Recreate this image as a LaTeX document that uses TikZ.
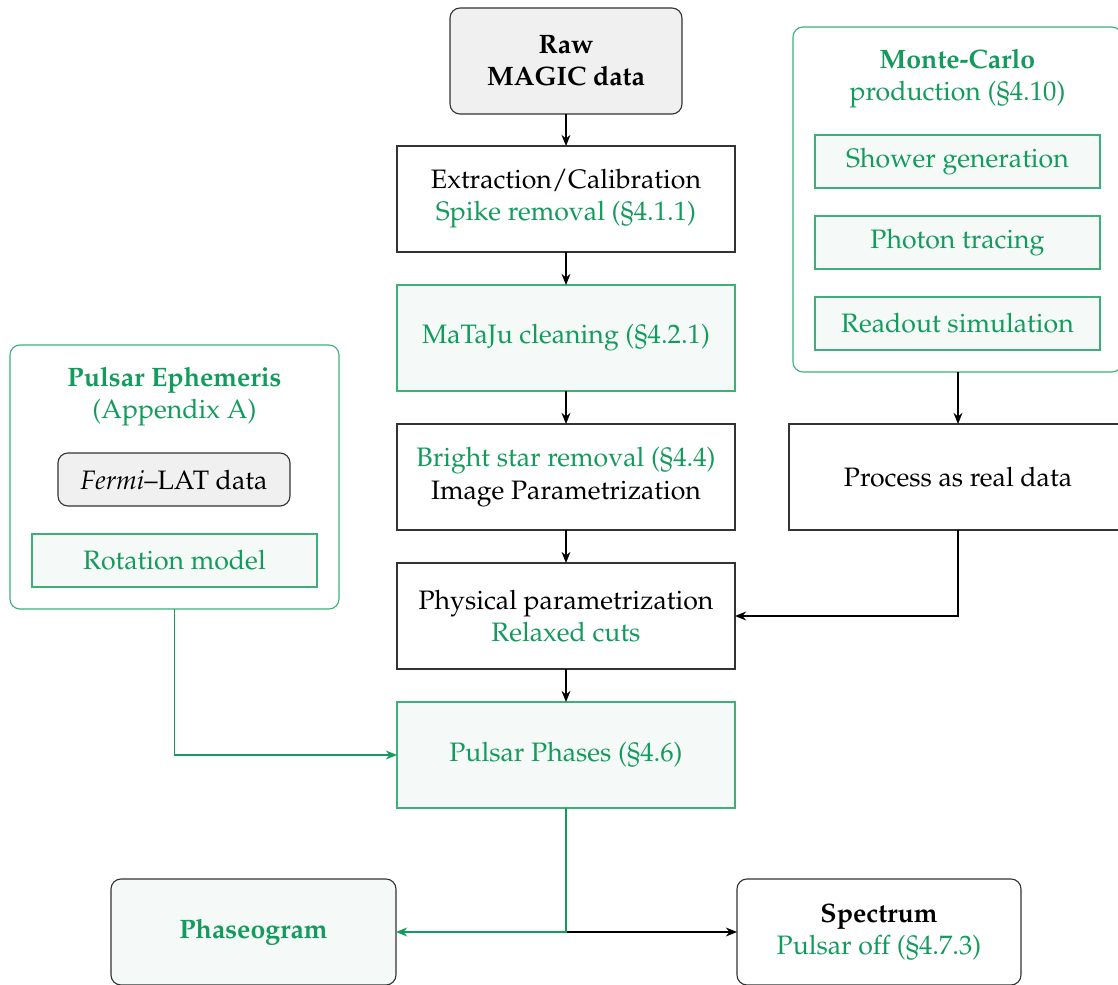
\documentclass[tikz,border=0pt]{standalone}
\usepackage[T1]{fontenc}
\usepackage{mathpazo}
\usetikzlibrary{arrows.meta}
\definecolor{grn}{HTML}{129B5C}
\definecolor{grnline}{HTML}{3DB07A}
\definecolor{grnfill}{HTML}{F5FAF8}
\definecolor{grayfill}{HTML}{F0F0F0}
\definecolor{bord}{HTML}{333333}
\tikzset{
  base/.style={draw=bord, line width=0.5pt, inner sep=0pt, outer sep=0pt, align=center},
  plainbox/.style={base, fill=white},
  greenbox/.style={base, draw=grnline, fill=grnfill, text=grn},
  graybox/.style={base, fill=grayfill, rounded corners=4.5pt},
  groupbox/.style={base, draw=grnline, fill=white, rounded corners=4.5pt},
  roundbox/.style={base, rounded corners=4.5pt},
  arr/.style={-{Stealth[length=5pt,width=4pt]}, line width=0.6pt, draw=black},
  garr/.style={-{Stealth[length=5pt,width=4pt]}, line width=0.75pt, draw=grn},
}
\begin{document}
\begin{tikzpicture}[x=0.45pt,y=-0.45pt,font=\fontsize{12}{14.5}\selectfont]
\useasboundingbox (0,0) rectangle (1118,985);

% central column
\node[graybox, minimum width=104.4pt, minimum height=47.7pt] (raw) at (566,61) {\textbf{Raw}\\\textbf{MAGIC data}};
\node[plainbox, minimum width=152.1pt, minimum height=47.7pt] (ext) at (566,199) {Extraction/Calibration\\{\color{grn}Spike removal (\S4.1.1)}};
\node[greenbox, minimum width=152.1pt, minimum height=47.7pt] (clean) at (566,338) {MaTaJu cleaning (\S4.2.1)};
\node[plainbox, minimum width=152.1pt, minimum height=47.7pt] (star) at (566,477) {{\color{grn}Bright star removal (\S4.4)}\\Image Parametrization};
\node[plainbox, minimum width=152.1pt, minimum height=47.7pt] (phys) at (566,616) {Physical parametrization\\{\color{grn}Relaxed cuts}};
\node[greenbox, minimum width=152.1pt, minimum height=47.7pt] (phase) at (566,755) {Pulsar Phases (\S4.6)};

% bottom
\node[roundbox, fill=grnfill, text=grn, minimum width=128.25pt, minimum height=47.7pt] (pg) at (253.5,932) {\textbf{Phaseogram}};
\node[roundbox, fill=white, minimum width=127.8pt, minimum height=47.7pt] (sp) at (879,932) {\textbf{Spectrum}\\{\color{grn}Pulsar off (\S4.7.3)}};

% Monte-Carlo group
\node[groupbox, minimum width=148.05pt, minimum height=155.25pt] (mc) at (957.5,199.5) {};
\node[text=grn, align=center, inner sep=0pt] (mct) at (957.5,79) {\textbf{Monte-Carlo}\\production (\S4.10)};
\node[greenbox, minimum width=128.25pt, minimum height=23.85pt] (sh) at (957.5,161.5) {Shower generation};
\node[greenbox, minimum width=128.25pt, minimum height=23.85pt] (pt) at (957.5,242.5) {Photon tracing};
\node[greenbox, minimum width=128.25pt, minimum height=23.85pt] (ro) at (957.5,323.5) {Readout simulation};
\node[plainbox, minimum width=152.1pt, minimum height=47.7pt] (proc) at (958,477) {Process as real data};

% Ephemeris group
\node[groupbox, minimum width=148.05pt, minimum height=118.8pt] (eph) at (174.5,477) {};
\node[text=grn, align=center, inner sep=0pt] (epht) at (174.5,397) {\textbf{Pulsar Ephemeris}\\(Appendix A)};
\node[graybox, minimum width=104.4pt, minimum height=23.85pt] (fermi) at (174,479.5) {\textit{Fermi}--LAT data};
\node[greenbox, minimum width=128.25pt, minimum height=23.85pt] (rot) at (174.5,560.5) {Rotation model};

% connectors
\draw[arr] (raw) -- (ext);
\draw[arr] (ext) -- (clean);
\draw[arr] (clean) -- (star);
\draw[arr] (star) -- (phys);
\draw[arr] (phys) -- (phase);
\draw[arr] (mc.south -| proc.north) -- (proc.north);
\draw[arr] (proc.south) |- (phys.east);
\draw[garr] (eph.south) |- (phase.west);
\draw[arr] (phase.south) |- (sp.west);
\draw[garr] (phase.south) |- (pg.east);
\end{tikzpicture}
\end{document}
